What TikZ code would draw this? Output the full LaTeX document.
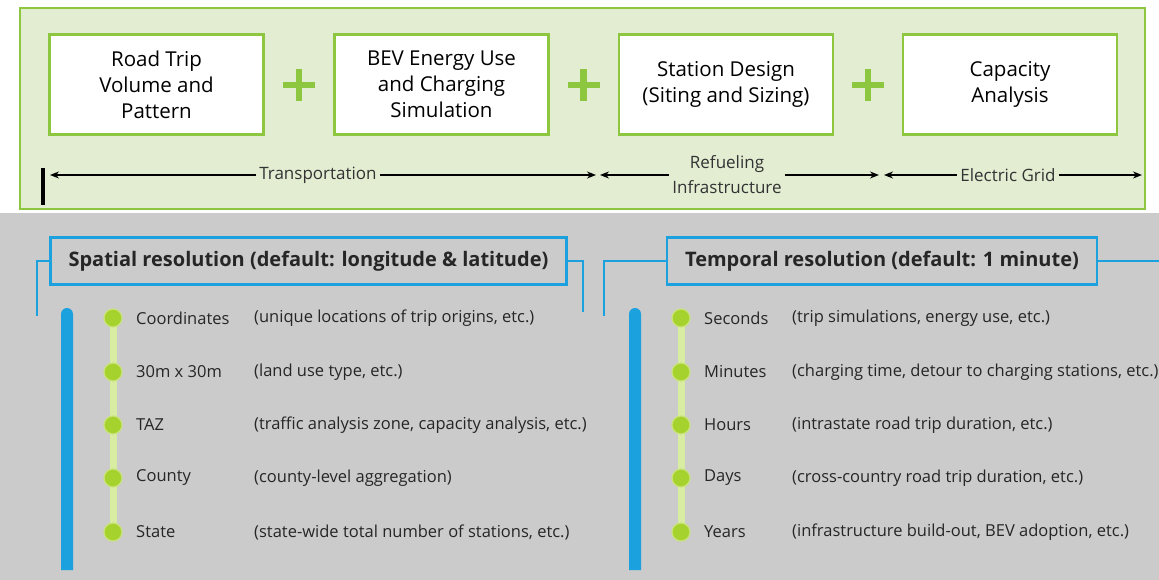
\documentclass[tikz,border=0pt]{standalone}
\usepackage{fontspec}
\setmainfont{Open Sans}
\usetikzlibrary{arrows.meta}
\definecolor{topfill}{HTML}{E2EDD2}
\definecolor{leaf}{HTML}{8DC63F}
\definecolor{sky}{HTML}{1BA1DE}
\definecolor{bggray}{HTML}{CBCBCB}
\definecolor{dotgreen}{HTML}{A6D22E}
\definecolor{dotrim}{HTML}{C9E37A}
\definecolor{stem}{HTML}{D8EDA2}
\tikzset{
  box/.style={draw=leaf, line width=2.5pt, fill=white, minimum width=214pt, minimum height=100pt,
    align=center, font=\fontsize{20.5}{26}\selectfont, inner sep=2pt},
  plusline/.style={draw=leaf, line width=6.5pt},
  lbl/.style={font=\fontsize{17}{25}\selectfont, inner sep=3pt, align=center, text=black!80},
  arr/.style={draw=black, line width=1.3pt, -{Stealth[length=9pt,width=7pt]}},
  titlebox/.style={draw=sky, line width=2.5pt, fill=bggray, minimum height=47pt,
    font=\bfseries\fontsize{20}{24}\selectfont, text=black!85},
  link/.style={draw=sky, line width=2.2pt},
  bar/.style={fill=sky},
  stemline/.style={draw=stem, line width=7pt},
  dot/.style={circle, fill=dotgreen, draw=dotrim, line width=1.2pt, minimum size=18pt, inner sep=0pt},
  rowlbl/.style={anchor=west, font=\fontsize{16.5}{20}\selectfont, inner sep=0pt, text=black!85},
}
\begin{document}
\begin{tikzpicture}[x=1pt,y=-1pt]
\useasboundingbox (0,0) rectangle (1159,580);
% backgrounds
\fill[bggray] (0,213) rectangle (1159,580);
\draw[draw=leaf, line width=2.5pt, fill=topfill] (20,8) rectangle (1145,209);

% top boxes
\node[box] (b1) at (156.5,84.5) {Road Trip\\Volume and\\Pattern};
\node[box] (b2) at (441.5,84.5) {BEV Energy Use\\and Charging\\Simulation};
\node[box] (b3) at (726,84.5) {Station Design\\(Siting and Sizing)};
\node[box] (b4) at (1010,84.5) {Capacity\\Analysis};
% plus signs
\foreach \px in {299,583.5,868}{
  \draw[plusline] (\px,69) -- (\px,101) (\px-16,85) -- (\px+16,85);
}

% domain arrows
\draw[black, line width=4pt] (43,168) -- (43,205);
\node[lbl] (tra) at (318,175) {Transportation};
\coordinate (traL) at (50,175);
\coordinate (traR) at (596,175);
\draw[arr] (tra) -- (traL);
\draw[arr] (tra) -- (traR);
\node[lbl] (ref) at (727,175) {Refueling\\Infrastructure};
\coordinate (refL) at (600,175);
\coordinate (refR) at (879,175);
\draw[arr] (ref.west |- refL) -- (refL);
\draw[arr] (ref.east |- refR) -- (refR);
\node[lbl] (ele) at (1008,175) {Electric Grid};
\coordinate (eleL) at (884,175);
\coordinate (eleR) at (1142,175);
\draw[arr] (ele) -- (eleL);
\draw[arr] (ele) -- (eleR);

% section titles
\node[titlebox, minimum width=516pt] (sp) at (308.5,261) {Spatial resolution (default: longitude \& latitude)};
\node[titlebox, minimum width=430pt] (tp) at (882,261) {Temporal resolution (default: 1 minute)};
\coordinate (spL) at (37,316);
\coordinate (spR) at (583,312);
\coordinate (tpL) at (604,316);
\coordinate (tpR) at (1159,261);
\draw[link] (sp.west) -| (spL);
\draw[link] (sp.east) -| (spR);
\draw[link] (tp.west) -| (tpL);
\draw[link] (tp.east) -- (tpR);

% blue side bars
\fill[bar] (61,570) -- (61,314) arc (180:360:6) -- (73,570) -- cycle;
\fill[bar] (629,570) -- (629,314) arc (180:360:6) -- (641,570) -- cycle;

% spatial timeline
\draw[stemline] (113,318) -- (113,532);
\node[dot] (s0) at (113,318) {};
\node[dot] (s1) at (113,372) {};
\node[dot] (s2) at (113,425) {};
\node[dot] (s3) at (113,478) {};
\node[dot] (s4) at (113,532) {};
\node[rowlbl] (s0a) at (136,318) {Coordinates};
\node[rowlbl] (s0b) at (254,318) {(unique locations of trip origins, etc.)};
\node[rowlbl] (s1a) at (136,372) {30m x 30m};
\node[rowlbl] (s1b) at (254,372) {(land use type, etc.)};
\node[rowlbl] (s2a) at (136,425) {TAZ};
\node[rowlbl] (s2b) at (254,425) {(traffic analysis zone, capacity analysis, etc.)};
\node[rowlbl] (s3a) at (136,478) {County};
\node[rowlbl] (s3b) at (254,478) {(county-level aggregation)};
\node[rowlbl] (s4a) at (136,532) {State};
\node[rowlbl] (s4b) at (254,532) {(state-wide total number of stations, etc.)};

% temporal timeline
\draw[stemline] (681,318) -- (681,532);
\node[dot] (t0) at (681,318) {};
\node[dot] (t1) at (681,372) {};
\node[dot] (t2) at (681,425) {};
\node[dot] (t3) at (681,478) {};
\node[dot] (t4) at (681,532) {};
\node[rowlbl] (t0a) at (704,318) {Seconds};
\node[rowlbl] (t0b) at (792,318) {(trip simulations, energy use, etc.)};
\node[rowlbl] (t1a) at (704,372) {Minutes};
\node[rowlbl] (t1b) at (792,372) {(charging time, detour to charging stations, etc.)};
\node[rowlbl] (t2a) at (704,425) {Hours};
\node[rowlbl] (t2b) at (792,425) {(intrastate road trip duration, etc.)};
\node[rowlbl] (t3a) at (704,478) {Days};
\node[rowlbl] (t3b) at (792,478) {(cross-country road trip duration, etc.)};
\node[rowlbl] (t4a) at (704,532) {Years};
\node[rowlbl] (t4b) at (792,532) {(infrastructure build-out, BEV adoption, etc.)};
\end{tikzpicture}
\end{document}
